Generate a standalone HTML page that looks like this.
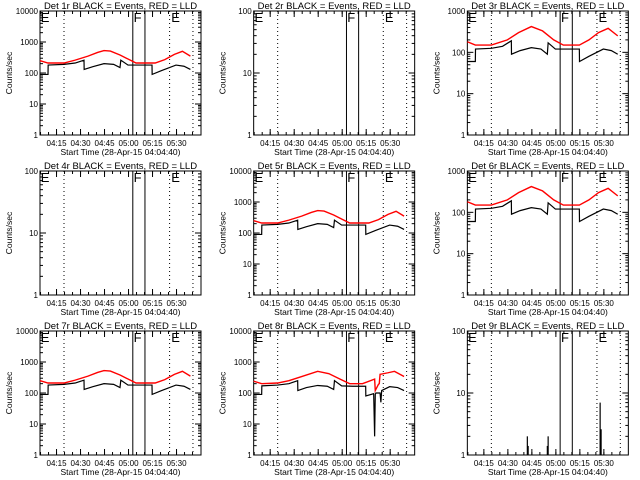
<!DOCTYPE html>
<html><head><meta charset="utf-8"><style>
html,body{margin:0;padding:0;background:#fff;}
svg{display:block;}
text{font-family:"Liberation Sans",sans-serif;fill:#000;}
</style></head><body>
<svg id="c" width="640" height="480" viewBox="0 0 640 480" xmlns="http://www.w3.org/2000/svg"></svg>
<script>
// time in minutes from 04:04:40
const tickLabels = ["04:15","04:30","04:45","05:00","05:15","05:30"];
const tickTimes = [10.33,25.33,40.33,55.33,70.33,85.33];
const dottedLines = [15,81,95.6];
const solidLines = [58,65.6];
const markerLabels = ["E","F","E"];
const markerTimes = [0.5,58.5,82];
const detNames = ["1r","2r","3r","4r","5r","6r","7r","8r","9r"];
const yMaxes = [10000,100,1000,100,10000,1000,10000,10000,100];

const tA = [0,5,5.1,15,22,27.5,27.6,33,40,46,50,50.5,55,62,70,70.1,76,85,90,94];
const blackA = [90,90,180,190,210,260,130,160,200,190,150,260,180,180,180,90,120,180,165,130];
const tRA = [0,5,15,22,30,36,40,44,50,54,60,72,78,84,89,94];
const redA = [250,210,210,260,350,460,530,510,380,300,210,210,270,400,500,350];

const tC = [0,5,5.1,15,22,27.5,27.6,33,40,46,50,50.5,55,62,70,70.1,76,85,90,94];
const blackC = [60,60,120,125,140,190,90,110,130,120,90,170,120,120,120,60,80,120,110,90];
const tRC = [0,5,15,25,32,40,47,54,60,70,76,82,88,94];
const redC = [180,150,150,200,300,420,330,200,150,150,200,300,380,250];

const tB = [0,5,5.1,15,22,27.5,27.6,33,40,46,50,50.5,55,62,70,70.1,75,75.6,76,76.4,79,79.5,80,85,90,94];
const blackB = [90,90,170,180,200,250,120,150,175,165,130,250,170,165,165,80,95,4,90,100,100,50,120,160,150,120];
const tRB = [0,5,15,22,30,40,47,54,60,68,75.6,76,78,78.5,79,84,88,94];
const redB = [240,200,210,250,340,500,420,280,200,200,280,120,190,200,400,450,500,340];

const tD = [37.5,38,50,50.5,83,83.6];
const countD = [2,1.4,1.4,2,7,2.6];

const series = [
 [tA,blackA,tRA,redA],[null],[tC,blackC,tRC,redC],
 [null],[tA,blackA,tRA,redA],[tC,blackC,tRC,redC],
 [tA,blackA,tRA,redA],[tB,blackB,tRB,redB],[null]
];

const svg=document.getElementById('c');
const NS="http://www.w3.org/2000/svg";
function mk(tag,attrs,parent){const e=document.createElementNS(NS,tag);for(const k in attrs)e.setAttribute(k,attrs[k]);(parent||svg).appendChild(e);return e;}

for(let p=0;p<9;p++){
 const col=p%3,row=Math.floor(p/3);
 const X0=40+col*213.67, Y0=11+row*160, W=161, H=124;
 const g=mk('g',{});
 
 
 const ymax=yMaxes[p], dec=Math.log10(ymax);
 const xs=t=>X0+t*1.6;
 const ys=v=>Y0+H-Math.log10(Math.max(v,1))/dec*H;
 const title=mk('text',{x:X0+W/2,y:Y0-2,'text-anchor':'middle','font-size':'9.5'},g);
 title.textContent='Det '+detNames[p]+' BLACK = Events, RED = LLD';
 
 
 const frame=mk('rect',{x:X0,y:Y0,width:W,height:H,fill:'none',stroke:'#000','stroke-width':1},g);
 
 
 for(let d=0;d<=dec;d++){
  const y=ys(Math.pow(10,d));
  mk('line',{x1:X0,x2:X0+6,y1:y,y2:y,stroke:'#000'},g);
  mk('line',{x1:X0+W-6,x2:X0+W,y1:y,y2:y,stroke:'#000'},g);
  const lb=mk('text',{x:X0-2,y:y+3,'text-anchor':'end','font-size':'8'},g);
  lb.textContent=String(Math.pow(10,d));
  
  
  if(d<dec){for(let m=2;m<=9;m++){const ym=ys(m*Math.pow(10,d));
   mk('line',{x1:X0,x2:X0+3,y1:ym,y2:ym,stroke:'#000'},g);
   mk('line',{x1:X0+W-3,x2:X0+W,y1:ym,y2:ym,stroke:'#000'},g);}}
 }
 const yt=mk('text',{x:0,y:0,'text-anchor':'middle','font-size':'8.5',transform:`translate(${X0-28},${Y0+H/2}) rotate(-90)`},g);
 yt.textContent='Counts/sec';
 
 
 for(let i=0;i<tickTimes.length;i++){
  const x=xs(tickTimes[i]);
  mk('line',{x1:x,x2:x,y1:Y0+H,y2:Y0+H-6,stroke:'#000'},g);
  mk('line',{x1:x,x2:x,y1:Y0,y2:Y0+6,stroke:'#000'},g);
  const lb=mk('text',{x:x,y:Y0+H+11,'text-anchor':'middle','font-size':'8'},g);
  lb.textContent=tickLabels[i];
  
  
 }
 for(let t=0.33;t<100;t+=5){const x=xs(t);
  mk('line',{x1:x,x2:x,y1:Y0+H,y2:Y0+H-3,stroke:'#000'},g);
  mk('line',{x1:x,x2:x,y1:Y0,y2:Y0+3,stroke:'#000'},g);}
 const xt=mk('text',{x:X0+W/2,y:Y0+H+20,'text-anchor':'middle','font-size':'8.5'},g);
 xt.textContent='Start Time (28-Apr-15 04:04:40)';
 
 
 dottedLines.forEach(t=>{const l=mk('line',{x1:xs(t),x2:xs(t),y1:Y0,y2:Y0+H,stroke:'#000','stroke-dasharray':'1,3'},g);
  
  });
 solidLines.forEach(t=>{const l=mk('line',{x1:xs(t),x2:xs(t),y1:Y0,y2:Y0+H,stroke:'#000'},g);
  
  });
 markerLabels.forEach((s,i)=>{const tx=mk('text',{x:xs(markerTimes[i]),y:Y0+11,'font-size':'13'},g);
  tx.textContent=s;
  
  });
 const sr=series[p];
 if(sr[0]){
  const pb=mk('polyline',{points:sr[0].map((t,i)=>xs(t)+','+ys(sr[1][i])).join(' '),fill:'none',stroke:'#000','stroke-width':1.2},g);
  
  
  const pr=mk('polyline',{points:sr[2].map((t,i)=>xs(t)+','+ys(sr[3][i])).join(' '),fill:'none',stroke:'#f00','stroke-width':1.4},g);
  
  
 }
 if(p===8){
  tD.forEach((t,i)=>{const l=mk('line',{x1:xs(t),x2:xs(t),y1:Y0+H,y2:ys(countD[i]),stroke:'#000','stroke-width':1.2},g);
   
   });
 }
}
</script>
</body></html>
